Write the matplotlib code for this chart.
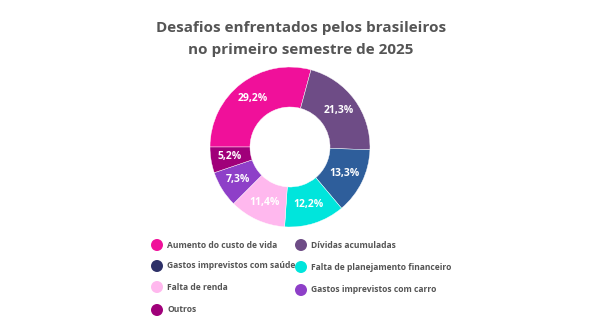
#!/usr/bin/env python3

import matplotlib
matplotlib.use("Agg")
import matplotlib.pyplot as plt
from matplotlib.patches import Ellipse

plt.rcParams["font.family"] = ["Open Sans", "DejaVu Sans"]

TITLE = "Desafios enfrentados pelos brasileiros\nno primeiro semestre de 2025"

# slices, clockwise from 9 o'clock
categories = [
    "Aumento do custo de vida",
    "Dívidas acumuladas",
    "Gastos imprevistos com saúde",
    "Falta de planejamento financeiro",
    "Falta de renda",
    "Gastos imprevistos com carro",
    "Outros",
]
values = [29.2, 21.3, 13.3, 12.2, 11.4, 7.3, 5.2]
slice_colors = ["#F0109A", "#6E4C86", "#2E5E9B", "#00E5DC", "#FFB8EE", "#8E3FC8", "#A0007A"]
legend_colors = ["#F0109A", "#6E4C86", "#2E3168", "#00E5DC", "#FFB8EE", "#8E3FC8", "#A0007A"]

TEXT_COLOR = "#555555"

fig = plt.figure(figsize=(6.02, 3.36), dpi=100)
fig.patch.set_facecolor("white")

# donut: centre ~ (290,147) px, radius ~80 px
cx, cy, r = 290, 147, 80
W, H = 602, 336
ax = fig.add_axes([(cx - r) / W, 1 - (cy + r) / H, 2 * r / W, 2 * r / H])
ax.set_aspect("equal")

wedges, _, autotexts = ax.pie(
    values,
    colors=slice_colors,
    startangle=180,
    counterclock=False,
    radius=1.0,
    wedgeprops=dict(width=0.5, edgecolor="white", linewidth=0.3),
    autopct=lambda p: "",
    pctdistance=0.76,
)
for t, v in zip(autotexts, values):
    t.set_text(f"{v:.1f}".replace(".", ",") + "%")
    t.set_color("white")
    t.set_fontsize(7.5)
    t.set_fontweight("bold")
ax.set_xlim(-1.0, 1.0)
ax.set_ylim(-1.0, 1.0)

fig.text(0.5, 1 - 39 / H, TITLE, ha="center", va="center", fontsize=11,
         fontweight="bold", color=TEXT_COLOR, linespacing=1.75)

# legend, row-major in two columns
col_x = [157, 301]
row_y = [[245, 266, 287, 310], [245, 267, 290]]
for i, name in enumerate(categories):
    col = i % 2
    row = i // 2
    x = col_x[col]
    y = row_y[col][row]
    fig.add_artist(Ellipse((x / W, 1 - y / H), 12 / W, 12 / H, transform=fig.transFigure,
                           facecolor=legend_colors[i], edgecolor="none"))
    fig.text((x + 10) / W, 1 - y / H, name, ha="left", va="center",
             fontsize=6.1, fontweight="bold", color=TEXT_COLOR)

fig.savefig("out.png", dpi=100)
